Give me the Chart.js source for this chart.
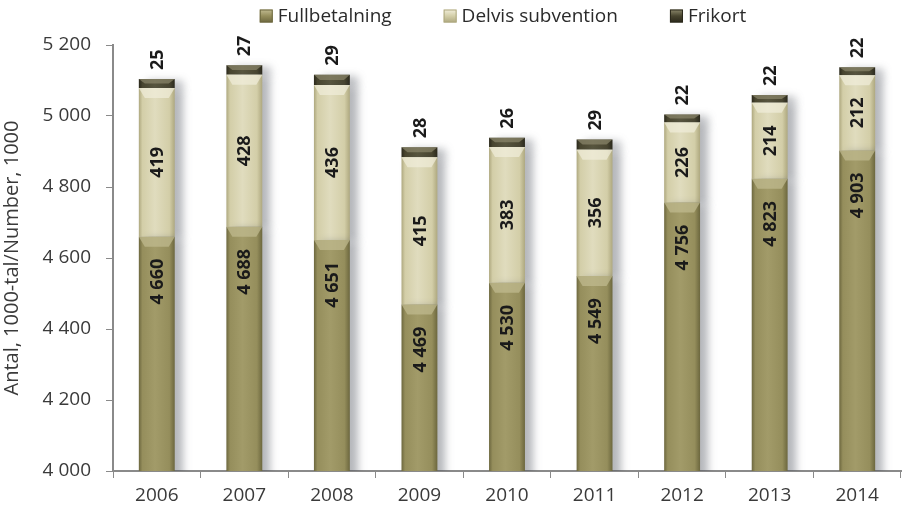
<!DOCTYPE html>
<html lang="sv">
<head>
  <meta charset="UTF-8" />
  <title>Fullbetalning / Delvis subvention / Frikort</title>
  <script src="https://cdn.jsdelivr.net/npm/chart.js"></script>
  <style>
    html, body {
      margin: 0;
      padding: 0;
      background: #ffffff;
    }
    #wrap {
      width: 910px;
      height: 516px;
    }
  </style>
</head>
<body>
  <div id="wrap"><canvas id="myChart" width="910" height="516"></canvas></div>

  <script>
    // data (1000-tal)
    const years = ['2006', '2007', '2008', '2009', '2010', '2011', '2012', '2013', '2014'];
    const fullbetalning = [4660, 4688, 4651, 4469, 4530, 4549, 4756, 4823, 4903];
    const delvisSubvention = [419, 428, 436, 415, 383, 356, 226, 214, 212];
    const frikort = [25, 27, 29, 28, 26, 29, 22, 22, 22];
    const yTicks = [4000, 4200, 4400, 4600, 4800, 5000, 5200];

    const FONT = "'Open Sans', 'Noto Sans', sans-serif";
    const BAR_PCT = 0.41;
    const keys = ['full', 'delvis', 'fri'];

    const palette = {
      full:   { edge: '#6c673e', mid: '#958e5c', light: '#a29b69', top: '#c2bc92' },
      delvis: { edge: '#aea87f', mid: '#d3cea8', light: '#e0dcbe', top: '#f1eedb' },
      fri:    { edge: '#2a281b', mid: '#48452f', light: '#58553d', top: '#8c886c' }
    };

    function fmt(v) {
      return String(v).replace(/\B(?=(\d{3})+(?!\d))/g, ' ');
    }

    // horizontal gradient across each bar, darker at the edges
    function barFill(key) {
      return function (ctx) {
        const chart = ctx.chart;
        const p = palette[key];
        if (!chart.chartArea || ctx.dataIndex === undefined) return p.mid;
        const cx = chart.scales.x.getPixelForValue(ctx.dataIndex);
        const w = chart.chartArea.width / years.length * BAR_PCT;
        const g = chart.ctx.createLinearGradient(cx - w / 2, 0, cx + w / 2, 0);
        g.addColorStop(0, p.edge);
        g.addColorStop(0.1, p.mid);
        g.addColorStop(0.45, p.light);
        g.addColorStop(0.85, p.mid);
        g.addColorStop(1, p.edge);
        return g;
      };
    }

    // soft shadow on the right side of the bars
    const shadowPlugin = {
      id: 'barShadow',
      beforeDatasetsDraw(chart) {
        const c = chart.ctx;
        c.save();
        c.shadowColor = 'rgba(70, 75, 85, 0.4)';
        c.shadowBlur = 8;
        c.shadowOffsetX = 8;
        c.shadowOffsetY = 2;
      },
      afterDatasetsDraw(chart) {
        chart.ctx.restore();
      }
    };

    // legend drawn centred over the plot area
    const legendPlugin = {
      id: 'topLegend',
      afterDraw(chart) {
        const c = chart.ctx;
        const area = chart.chartArea;
        const box = 13, gapText = 5, gapItem = 52;
        c.save();
        c.font = '19px ' + FONT;
        const items = chart.data.datasets.map((ds, i) => ({
          text: ds.label,
          key: keys[i],
          w: box + gapText + c.measureText(ds.label).width
        }));
        const total = items.reduce((s, it) => s + it.w, 0) + gapItem * (items.length - 1);
        let x = (area.left + area.right) / 2 - total / 2 - 4;
        const y = 16;
        items.forEach(it => {
          const p = palette[it.key];
          const g = c.createLinearGradient(0, y - box / 2, 0, y + box / 2);
          g.addColorStop(0, p.top);
          g.addColorStop(0.5, p.mid);
          g.addColorStop(1, p.edge);
          c.fillStyle = g;
          c.fillRect(x, y - box / 2, box, box);
          c.strokeStyle = p.edge;
          c.lineWidth = 1;
          c.strokeRect(x + 0.5, y - box / 2 + 0.5, box - 1, box - 1);
          c.fillStyle = '#2a2a2a';
          c.textBaseline = 'middle';
          c.textAlign = 'left';
          c.fillText(it.text, x + box + gapText, y + 1);
          x += it.w + gapItem;
        });
        c.restore();
      }
    };

    // bevel highlight at the top of each segment + value labels
    const labelPlugin = {
      id: 'segLabels',
      afterDatasetsDraw(chart) {
        const c = chart.ctx;
        chart.data.datasets.forEach((ds, di) => {
          const meta = chart.getDatasetMeta(di);
          meta.data.forEach((bar, i) => {
            const half = bar.width / 2;
            const top = bar.y;
            const h = bar.base - top;
            const p = palette[keys[di]];

            // bevel
            c.save();
            const bh = Math.min(10, h * 0.5);
            c.fillStyle = p.top;
            c.globalAlpha = 0.7;
            c.beginPath();
            c.moveTo(bar.x - half, top);
            c.lineTo(bar.x + half, top);
            c.lineTo(bar.x + half - 6, top + bh);
            c.lineTo(bar.x - half + 6, top + bh);
            c.closePath();
            c.fill();
            c.restore();

            // label
            c.save();
            c.font = 'bold 18px ' + FONT;
            c.fillStyle = '#1a1a1a';
            c.textBaseline = 'middle';
            let y;
            if (di === 0) {
              y = top + 45;
              c.textAlign = 'center';
            } else if (di === 1) {
              y = top + h / 2;
              c.textAlign = 'center';
            } else {
              y = top - 9;
              c.textAlign = 'left';
            }
            c.translate(bar.x + 1, y);
            c.rotate(-Math.PI / 2);
            c.fillText(fmt(ds.data[i]), 0, 0);
            c.restore();
          });
        });
      }
    };

    const ctx = document.getElementById('myChart').getContext('2d');

    new Chart(ctx, {
      type: 'bar',
      data: {
        labels: years,
        datasets: [
          { label: 'Fullbetalning', data: fullbetalning, backgroundColor: barFill('full') },
          { label: 'Delvis subvention', data: delvisSubvention, backgroundColor: barFill('delvis') },
          { label: 'Frikort', data: frikort, backgroundColor: barFill('fri') }
        ]
      },
      options: {
        responsive: false,
        animation: false,
        layout: { padding: { top: 45, right: 9, left: 0, bottom: 0 } },
        datasets: {
          bar: {
            categoryPercentage: 1,
            barPercentage: BAR_PCT,
            borderWidth: 0
          }
        },
        scales: {
          x: {
            stacked: true,
            afterFit(axis) { axis.height = 45; },
            grid: {
              display: true,
              drawOnChartArea: false,
              drawTicks: true,
              tickLength: 7,
              color: '#8a8a8a'
            },
            border: { display: true, color: '#8a8a8a', width: 2 },
            ticks: {
              color: '#3a3a3a',
              padding: 6,
              font: { family: FONT, size: 19 }
            }
          },
          y: {
            stacked: true,
            min: 4000,
            max: 5200,
            afterBuildTicks(axis) {
              axis.ticks = yTicks.map(v => ({ value: v }));
            },
            afterFit(axis) { axis.width = 113; },
            grid: {
              display: true,
              drawOnChartArea: false,
              drawTicks: true,
              tickLength: 7,
              color: '#8a8a8a'
            },
            border: { display: true, color: '#8a8a8a', width: 2 },
            ticks: {
              color: '#3a3a3a',
              padding: 15,
              font: { family: FONT, size: 19 },
              callback: v => fmt(v)
            },
            title: {
              display: true,
              text: 'Antal, 1000-tal/Number, 1000',
              color: '#3a3a3a',
              padding: { top: 0, bottom: 0 },
              font: { family: FONT, size: 20 }
            }
          }
        },
        plugins: {
          tooltip: { enabled: false },
          legend: { display: false }
        }
      },
      plugins: [shadowPlugin, labelPlugin, legendPlugin]
    });
  </script>
</body>
</html>
